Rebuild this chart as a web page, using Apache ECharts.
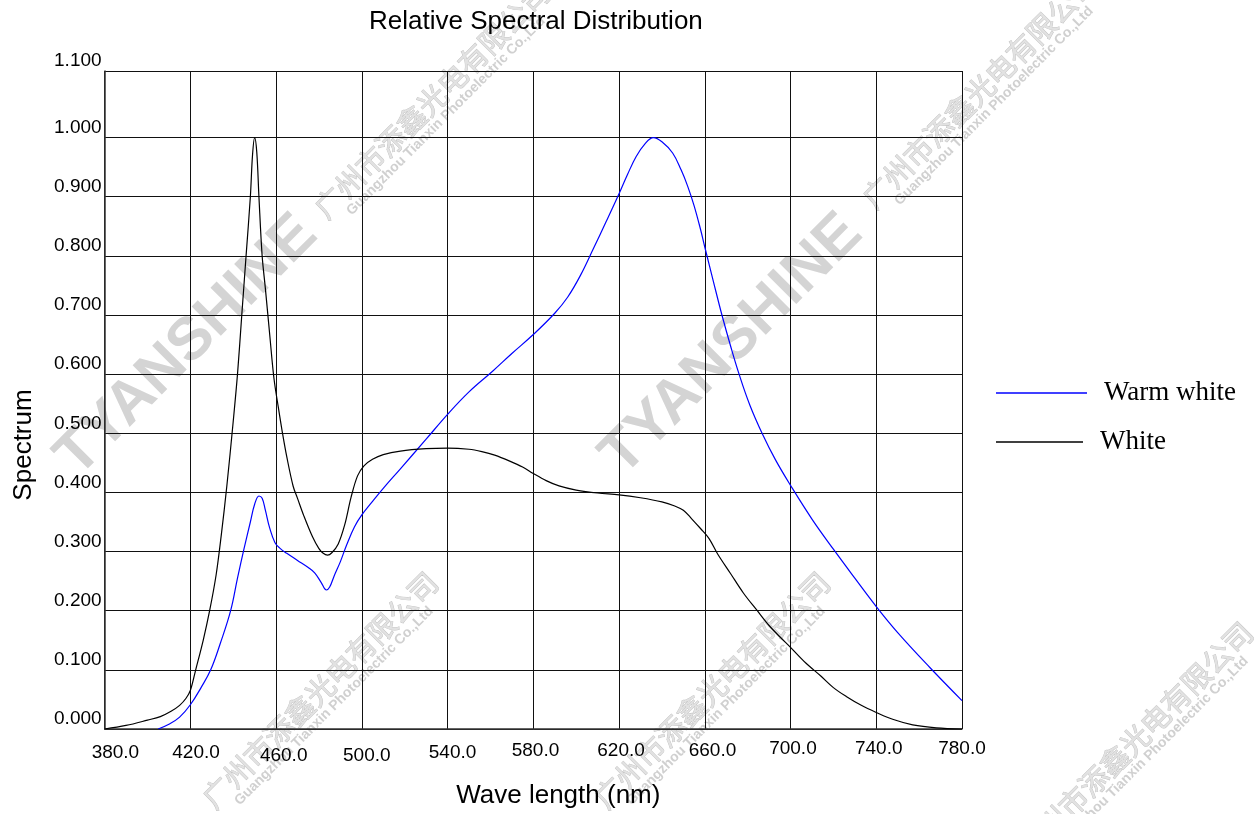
<!DOCTYPE html>
<html><head><meta charset="utf-8">
<script src="https://cdn.jsdelivr.net/npm/echarts@6/dist/echarts.min.js"></script>
<style>html,body{margin:0;padding:0;background:#fff}#c{width:1256px;height:814px}</style>
</head><body><div id="c"></div>
<script>
// ---- data ----
const whiteNm = [380,390,400,406,411,415,418,420,422.5,426,429,432,434.5,437,440,442,444,446,448,449,450,451,452,453.5,455,457,459,461,463,465,468,470,473,477,480,482,484,486,489,492,495,498,501,505,510,518,530,540,550,556,562,569,575,580,586,592,600,610,620,630,640,646,650,654,658,662,666,672,678,684.5,690,695,700,707,714,720,726,733,740,748,757,768,780];
const whiteVal = [0,0.006,0.015,0.021,0.03,0.04,0.052,0.065,0.1,0.15,0.2,0.26,0.33,0.41,0.52,0.60,0.70,0.80,0.90,0.97,1.0,0.975,0.9,0.8,0.745,0.668,0.593,0.545,0.50,0.46,0.41,0.39,0.36,0.325,0.305,0.297,0.294,0.298,0.313,0.345,0.392,0.428,0.445,0.456,0.464,0.47,0.474,0.475,0.473,0.469,0.463,0.453,0.443,0.432,0.42,0.411,0.404,0.399,0.396,0.391,0.384,0.377,0.37,0.355,0.339,0.322,0.296,0.263,0.23,0.20,0.175,0.156,0.138,0.112,0.09,0.07,0.055,0.04,0.028,0.016,0.007,0.002,0];
const warmNm = [405,410,415,420,425,429.5,434,438.8,442,445,448,450,452,453.5,455,457,459.5,462,465,470,475,478,481,483.5,485,487,490,493,496.6,500,505,510,518,530,540,550,561,570,580,590,596,602,608,614,620,624,628,632,636,640,645,649,652,655,658,660,664,668,672,676,681,687,693,700,710,720,730,740,750,765,780];
const warmVal = [0,0.008,0.02,0.041,0.07,0.1,0.145,0.2,0.255,0.304,0.35,0.38,0.394,0.39,0.37,0.34,0.315,0.305,0.297,0.285,0.273,0.264,0.248,0.235,0.24,0.258,0.283,0.312,0.342,0.362,0.385,0.407,0.44,0.49,0.532,0.57,0.605,0.635,0.667,0.703,0.73,0.767,0.812,0.858,0.905,0.938,0.968,0.989,1.0,0.993,0.974,0.945,0.918,0.885,0.845,0.815,0.757,0.70,0.648,0.6,0.548,0.498,0.455,0.412,0.355,0.304,0.255,0.207,0.163,0.104,0.048];
const xTickLabels = ['380.0','420.0','460.0','500.0','540.0','580.0','620.0','660.0','700.0','740.0','780.0'];
const yTickLabels = ['0.000','0.100','0.200','0.300','0.400','0.500','0.600','0.700','0.800','0.900','1.000','1.100'];
const seriesNames = ['Warm white','White'];

// ---- layout / style helpers ----
const xPadTop  = [8.8,8.8,14.8,14.8,8.8,4.8,4.8,4.8,0,0,0];
const xPadLeft = [21.6,11.4,15.2,10,10,4.4,4,15.4,4.8,5,0];
const SANS = '"Liberation Sans", Arial, sans-serif';
const SERIF = '"Liberation Serif", "Times New Roman", serif';
const yTop = 1.1126;

const rich = {};
xTickLabels.forEach((t, i) => {
  rich['t' + i] = {fontFamily: SANS, fontSize: 19, lineHeight: 19, color: '#000', padding: [xPadTop[i], 0, 0, xPadLeft[i]]};
});

const ySplitColors = [];
for (let i = 0; i < 13; i++) ySplitColors.push(i === 11 ? 'rgba(0,0,0,0)' : '#111');

function wmText(x, y, text, font, fill, stroke, lw) {
  const st = {text: text, font: font, fill: fill, align: 'center', verticalAlign: 'middle'};
  if (stroke) { st.stroke = stroke; st.lineWidth = lw; }
  return {type: 'text', x: x, y: y, rotation: Math.PI / 4, z: -10, silent: true, style: st};
}
const wm = [];
[[187,346],[732,345]].forEach(p => wm.push(wmText(p[0], p[1], 'TYANSHINE', 'bold 60px ' + SANS, '#d4d4d4')));
[[432,100],[980,90],[320,690],[712,690],[1135,740]].forEach(p => {
  wm.push(wmText(p[0], p[1], '广州市添鑫光电有限公司', '29px "Noto Sans CJK SC"', '#e2e2e2', '#c2c2c2', 0.9));
  wm.push(wmText(p[0] + 14, p[1] + 16, 'Guangzhou Tianxin Photoelectric Co.,Ltd', 'bold 14px ' + SANS, '#d0d0d0'));
});

const chart = echarts.init(document.getElementById('c'), null, {renderer: 'canvas'});
chart.setOption({
  backgroundColor: '#fff',
  animation: false,
  title: {text: 'Relative Spectral Distribution', left: 369, top: 9, padding: 0,
    textStyle: {fontFamily: SANS, fontSize: 26, lineHeight: 26, fontWeight: 'normal', color: '#000'}},
  graphic: {elements: wm},
  legend: [
    {data: [seriesNames[0]], left: 996, top: 379, padding: 0, itemWidth: 91, itemHeight: 1.4, icon: 'rect',
      textStyle: {fontFamily: SERIF, fontSize: 27, lineHeight: 28, color: '#000', padding: [0, 0, 0, 12]}},
    {data: [seriesNames[1]], left: 996, top: 420, padding: 0, itemWidth: 87, itemHeight: 1.4, icon: 'rect',
      textStyle: {fontFamily: SERIF, fontSize: 27, lineHeight: 28, color: '#000', padding: [0, 0, 16, 12]}}
  ],
  grid: {left: 104.6, right: 294, top: 71, bottom: 85, containLabel: false},
  xAxis: {type: 'value', min: 380, max: 780, interval: 40,
    name: 'Wave length (nm)', nameLocation: 'middle', nameGap: 54,
    nameTextStyle: {fontFamily: SANS, fontSize: 26, lineHeight: 26, color: '#000', padding: [0, 0, 0, 50]},
    axisLine: {show: true, lineStyle: {color: '#333', width: 1.5}},
    axisTick: {show: false},
    splitLine: {show: true, lineStyle: {color: '#111', width: 1}},
    axisLabel: {margin: 10, formatter: v => {const i = Math.round((v - 380) / 40); return '{t' + i + '|' + xTickLabels[i] + '}';}, rich: rich}
  },
  yAxis: {type: 'value', min: 0, max: yTop, interval: 0.1,
    name: 'Spectrum', nameLocation: 'middle', nameGap: 68,
    nameTextStyle: {fontFamily: SANS, fontSize: 26, lineHeight: 26, color: '#000', padding: [0, 90, 0, 0]},
    axisLine: {show: true, lineStyle: {color: '#333', width: 1.5}},
    axisTick: {show: false},
    splitLine: {show: true, lineStyle: {color: ySplitColors, width: 1}},
    axisLabel: {margin: 3, showMaxLabel: true, fontFamily: SANS, fontSize: 19, lineHeight: 20, color: '#000', verticalAlign: 'bottom',
      formatter: v => {
        if (v > 1.105) return yTickLabels[11];
        const i = Math.round(v * 10);
        if (i === 11) return '';
        return yTickLabels[i];
      }}
  },
  series: [
    {name: seriesNames[0], type: 'line', data: warmNm.map((x, i) => [x, warmVal[i]]), showSymbol: false, symbol: 'none', smooth: 0.4,
      color: '#0000ff', lineStyle: {color: '#0000ff', width: 1.2}, z: 3},
    {name: seriesNames[1], type: 'line', data: whiteNm.map((x, i) => [x, whiteVal[i]]), showSymbol: false, symbol: 'none', smooth: 0.35,
      color: '#000000', lineStyle: {color: '#000000', width: 1.2}, z: 3}
  ]
});
</script></body></html>
